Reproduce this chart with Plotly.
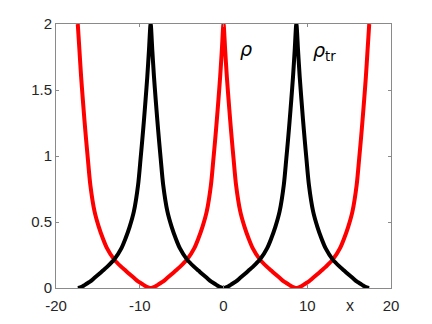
import plotly.graph_objects as go

# x grid (shared by both curves)
x = [-17.4, -17.2, -17.0, -16.8, -16.6, -16.4, -16.2, -15.9, -15.4, -14.9, -14.4, -13.9,
     -13.05, -12.2, -11.7, -11.2, -10.7, -10.2, -9.9, -9.7, -9.5, -9.3, -9.1, -8.9,
     -8.7, -8.5, -8.3, -8.1, -7.9, -7.7, -7.5, -7.2, -6.7, -6.2, -5.7, -5.2,
     -4.35, -3.5, -3.0, -2.5, -2.0, -1.5, -1.2, -1.0, -0.8, -0.6, -0.4, -0.2,
     0.0, 0.2, 0.4, 0.6, 0.8, 1.0, 1.2, 1.5, 2.0, 2.5, 3.0, 3.5,
     4.35, 5.2, 5.7, 6.2, 6.7, 7.2, 7.5, 7.7, 7.9, 8.1, 8.3, 8.5,
     8.7, 8.9, 9.1, 9.3, 9.5, 9.7, 9.9, 10.2, 10.7, 11.2, 11.7, 12.2,
     13.05, 13.9, 14.4, 14.9, 15.4, 15.9, 16.2, 16.4, 16.6, 16.8, 17.0, 17.2, 17.4]

# rho (red)
rho = [2.0, 1.8, 1.6, 1.43, 1.27, 1.12, 0.98, 0.78, 0.58, 0.465, 0.375, 0.3,
       0.215, 0.16, 0.132, 0.104, 0.077, 0.05, 0.038, 0.03, 0.022, 0.014, 0.007, 0.002,
       0.0, 0.002, 0.007, 0.014, 0.022, 0.03, 0.038, 0.05, 0.077, 0.104, 0.132, 0.16,
       0.215, 0.3, 0.375, 0.465, 0.58, 0.78, 0.98, 1.12, 1.27, 1.43, 1.6, 1.8,
       2.0, 1.8, 1.6, 1.43, 1.27, 1.12, 0.98, 0.78, 0.58, 0.465, 0.375, 0.3,
       0.215, 0.16, 0.132, 0.104, 0.077, 0.05, 0.038, 0.03, 0.022, 0.014, 0.007, 0.002,
       0.0, 0.002, 0.007, 0.014, 0.022, 0.03, 0.038, 0.05, 0.077, 0.104, 0.132, 0.16,
       0.215, 0.3, 0.375, 0.465, 0.58, 0.78, 0.98, 1.12, 1.27, 1.43, 1.6, 1.8, 2.0]

# rho_tr (black)
rho_tr = [0.0, 0.002, 0.007, 0.014, 0.022, 0.03, 0.038, 0.05, 0.077, 0.104, 0.132, 0.16,
          0.215, 0.3, 0.375, 0.465, 0.58, 0.78, 0.98, 1.12, 1.27, 1.43, 1.6, 1.8,
          2.0, 1.8, 1.6, 1.43, 1.27, 1.12, 0.98, 0.78, 0.58, 0.465, 0.375, 0.3,
          0.215, 0.16, 0.132, 0.104, 0.077, 0.05, 0.038, 0.03, 0.022, 0.014, 0.007, 0.002,
          0.0, 0.002, 0.007, 0.014, 0.022, 0.03, 0.038, 0.05, 0.077, 0.104, 0.132, 0.16,
          0.215, 0.3, 0.375, 0.465, 0.58, 0.78, 0.98, 1.12, 1.27, 1.43, 1.6, 1.8,
          2.0, 1.8, 1.6, 1.43, 1.27, 1.12, 0.98, 0.78, 0.58, 0.465, 0.375, 0.3,
          0.215, 0.16, 0.132, 0.104, 0.077, 0.05, 0.038, 0.03, 0.022, 0.014, 0.007, 0.002, 0.0]

x_ticks = [-20, -10, 0, 10, 20]
x_ticklabels = ["-20", "-10", "0", "10", "20"]
y_ticks = [0, 0.5, 1, 1.5, 2]
y_ticklabels = ["0", "0.5", "1", "1.5", "2"]

axis_grey = "#8a8a8a"
text_col = "#262626"

fig = go.Figure()
fig.add_trace(go.Scatter(x=x, y=rho, mode="lines", line=dict(color="red", width=4, shape="spline", smoothing=0.8),
                         name="rho"))
fig.add_trace(go.Scatter(x=x, y=rho_tr, mode="lines", line=dict(color="black", width=4, shape="spline", smoothing=0.8),
                         name="rho_tr"))

common = dict(showgrid=False, zeroline=False, showline=True, linecolor=axis_grey, linewidth=1,
              mirror="ticks", ticks="inside", ticklen=3, tickcolor=axis_grey, automargin=False,
              tickfont=dict(family="Liberation Sans", size=15, color=text_col))
fig.update_xaxes(range=[-20, 20], tickvals=x_ticks, ticktext=x_ticklabels, ticklabelstandoff=4, **common)
fig.update_yaxes(range=[0, 2], tickvals=y_ticks, ticktext=y_ticklabels, **common)

fig.add_annotation(x=2.7, y=1.81, xref="x", yref="y", text="<i>ρ</i>", showarrow=False,
                   font=dict(family="DejaVu Sans", size=19, color="black"))
fig.add_annotation(x=12.1, y=1.79, xref="x", yref="y", text="<i>ρ</i><sub>tr</sub>", showarrow=False,
                   font=dict(family="DejaVu Sans", size=19, color="black"))
fig.add_annotation(x=15.1, y=-0.025, xref="x", yref="paper", text="x", showarrow=False,
                   yanchor="top", font=dict(family="Liberation Sans", size=16, color=text_col))

# page body adds an 8 px margin, so the figure is a bit smaller than the window
fig.update_layout(width=416, height=308, showlegend=False,
                  margin=dict(l=48, r=33, t=16, b=28),
                  plot_bgcolor="white", paper_bgcolor="white")

fig.write_html("out.html")
